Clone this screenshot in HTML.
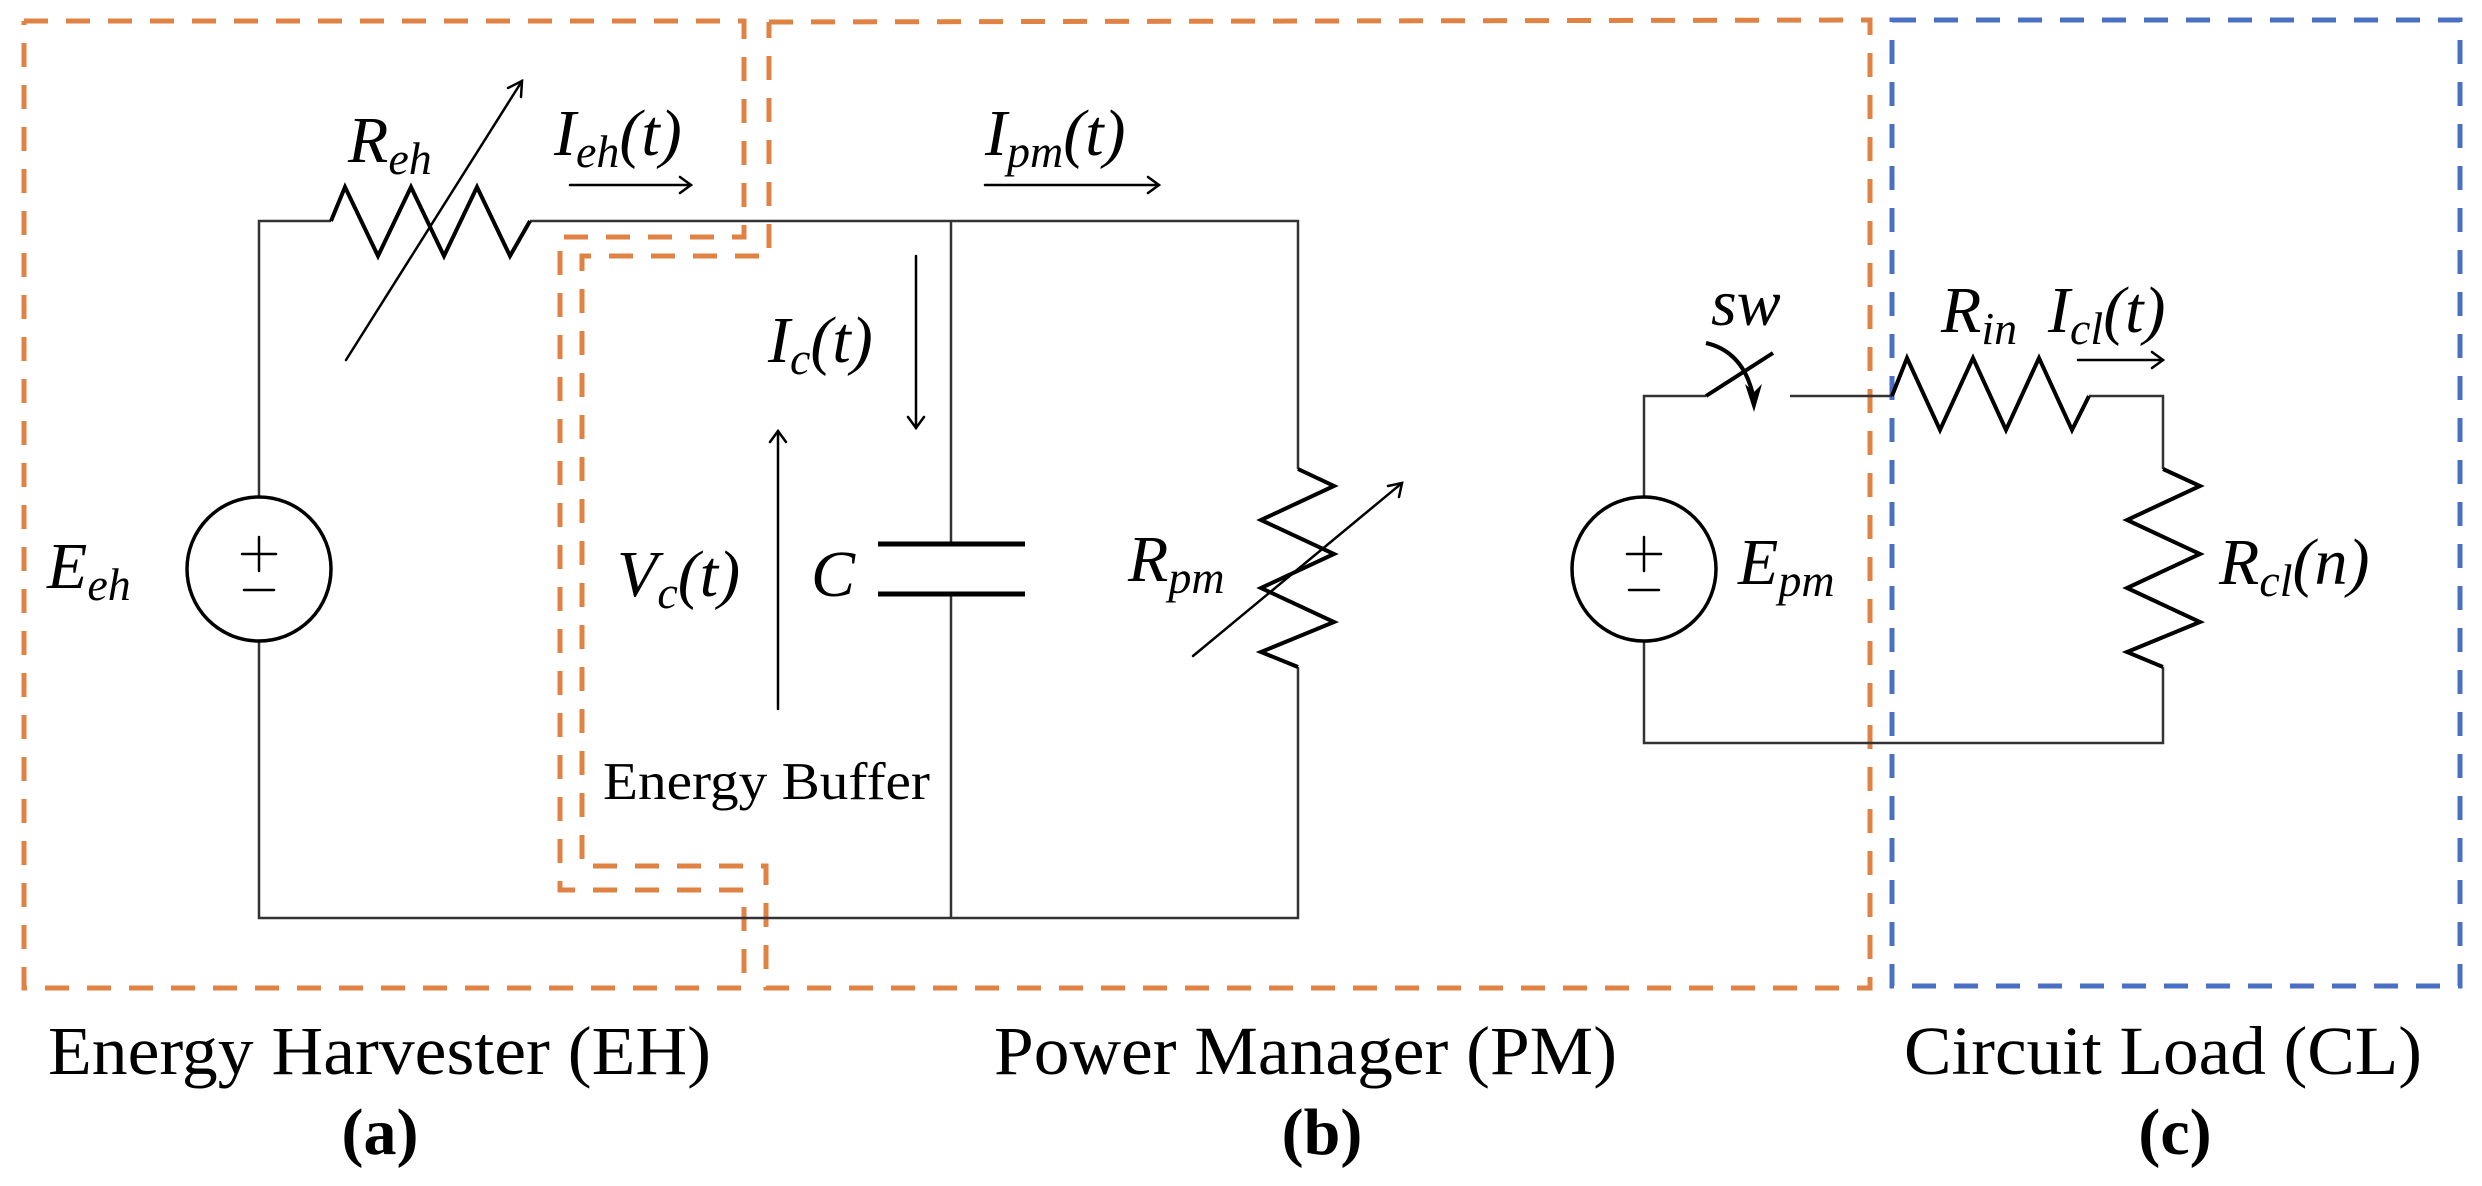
<!DOCTYPE html>
<html><head><meta charset="utf-8"><style>
html,body{margin:0;padding:0;background:#fff;}
svg{display:block;}
.m{font-family:"Liberation Serif",serif;font-style:italic;font-size:66px;fill:#000;}
.s{font-size:46px;}
.t{font-family:"Liberation Serif",serif;font-size:69px;fill:#000;}
.b{font-family:"Liberation Serif",serif;font-size:66px;font-weight:bold;fill:#000;}
</style></head><body>
<svg width="2482" height="1186" viewBox="0 0 2482 1186" xmlns="http://www.w3.org/2000/svg">
<g fill="none" stroke-width="5" stroke-dasharray="24 18">
<polyline stroke="#E08244" points="24,21 744,21 744,237 560,237 560,890 744,890 744,988 24,988 24,21"/>
<polyline stroke="#E08244" points="769,22 1870,20 1870,988 769,988 766,988 766,866 582,866 582,256 769,256 769,22"/>
<rect stroke="#4A70C4" x="1892" y="20" width="568" height="966"/>
</g>
<g fill="none" stroke="#333" stroke-width="2.5">
<polyline points="259,497 259,221 331,221"/>
<polyline points="530,221 1298,221 1298,469"/>
<polyline points="259,641 259,918 1298,918 1298,667"/>
<line x1="951" y1="221" x2="951" y2="544"/>
<line x1="951" y1="594" x2="951" y2="918"/>
<polyline points="1644,497 1644,396 1706,396"/>
<line x1="1790" y1="396" x2="1892" y2="396"/>
<polyline points="2089,396 2163,396 2163,469"/>
<polyline points="1644,641 1644,743 2163,743 2163,667"/>
</g>
<g fill="none" stroke="#000" stroke-width="4" stroke-linejoin="miter">
<polyline points="331,221 345,187 378,256 411,187 444,256 477,187 510,256 530,221"/>
<polyline points="1298,469 1334,486 1261,520 1334,554 1261,588 1334,622 1261,652 1298,667"/>
<polyline points="1892,396 1907,358 1940,430 1973,358 2006,430 2039,358 2072,430 2089,396"/>
<polyline points="2163,469 2200,486 2127,520 2200,554 2127,588 2200,622 2127,652 2163,667"/>
<line x1="878" y1="544" x2="1025" y2="544" stroke-width="5"/>
<line x1="878" y1="594" x2="1025" y2="594" stroke-width="5"/>
<circle cx="259" cy="569" r="72" stroke-width="3.5"/>
<circle cx="1644" cy="569" r="72" stroke-width="3.5"/>
<line x1="1706" y1="396" x2="1773" y2="353"/>
<path d="M1706,343 Q1745,352 1754,400"/>
</g>
<path d="M1745,384 L1754,412 L1762,384 L1754,392 Z" fill="#000"/>
<g stroke="#000" stroke-width="2.5" fill="none" stroke-linecap="round">
<line x1="259" y1="537" x2="259" y2="571"/><line x1="242" y1="554" x2="276" y2="554"/>
<line x1="244" y1="590" x2="274" y2="590"/>
<line x1="1644" y1="537" x2="1644" y2="571"/><line x1="1627" y1="554" x2="1661" y2="554"/>
<line x1="1629" y1="590" x2="1659" y2="590"/>
<line x1="346" y1="360" x2="522" y2="81"/><polyline points="508,88 522,81 521,97"/>
<line x1="1193" y1="656" x2="1402" y2="483"/><polyline points="1388,486 1402,483 1399,497"/>
<line x1="570" y1="185" x2="691" y2="185"/><polyline points="680,177 691,185 680,193"/>
<line x1="985" y1="185" x2="1159" y2="185"/><polyline points="1148,177 1159,185 1148,193"/>
<line x1="916" y1="256" x2="916" y2="428"/><polyline points="908,417 916,428 924,417"/>
<line x1="778" y1="709" x2="778" y2="431"/><polyline points="770,442 778,431 786,442"/>
<line x1="2078" y1="360" x2="2163" y2="360"/><polyline points="2152,352 2163,360 2152,368"/>
</g>
<text class="m" x="348" y="162">R<tspan class="s" dy="12">eh</tspan></text>
<text class="m" x="554" y="155">I<tspan class="s" dy="12">eh</tspan><tspan dy="-12">(t)</tspan></text>
<text class="m" x="985" y="155">I<tspan class="s" dy="12">pm</tspan><tspan dy="-12">(t)</tspan></text>
<text class="m" x="768" y="362">I<tspan class="s" dy="12">c</tspan><tspan dy="-12">(t)</tspan></text>
<text class="m" x="617" y="596">V<tspan class="s" dy="12">c</tspan><tspan dy="-12">(t)</tspan></text>
<text class="m" x="811" y="596">C</text>
<text class="m" x="47" y="588">E<tspan class="s" dy="12">eh</tspan></text>
<text class="m" x="1128" y="581">R<tspan class="s" dy="12">pm</tspan></text>
<text class="m" x="1738" y="584">E<tspan class="s" dy="12">pm</tspan></text>
<text class="m" x="2219" y="584">R<tspan class="s" dy="12">cl</tspan><tspan dy="-12">(n)</tspan></text>
<text class="m" x="1941" y="332">R<tspan class="s" dy="12">in</tspan></text>
<text class="m" x="2048" y="332">I<tspan class="s" dy="12">cl</tspan><tspan dy="-12">(t)</tspan></text>
<text class="m" x="1711" y="325">sw</text>
<text x="603" y="799" font-family="Liberation Serif, serif" font-size="53" textLength="327" lengthAdjust="spacingAndGlyphs">Energy Buffer</text>
<text class="t" x="48" y="1074" textLength="663" lengthAdjust="spacingAndGlyphs">Energy Harvester (EH)</text>
<text class="t" x="994" y="1074" textLength="623" lengthAdjust="spacingAndGlyphs">Power Manager (PM)</text>
<text class="t" x="1904" y="1074" textLength="518" lengthAdjust="spacingAndGlyphs">Circuit Load (CL)</text>
<text class="b" x="380" y="1154" text-anchor="middle">(a)</text>
<text class="b" x="1322" y="1154" text-anchor="middle">(b)</text>
<text class="b" x="2175" y="1154" text-anchor="middle">(c)</text>
</svg>
</body></html>
